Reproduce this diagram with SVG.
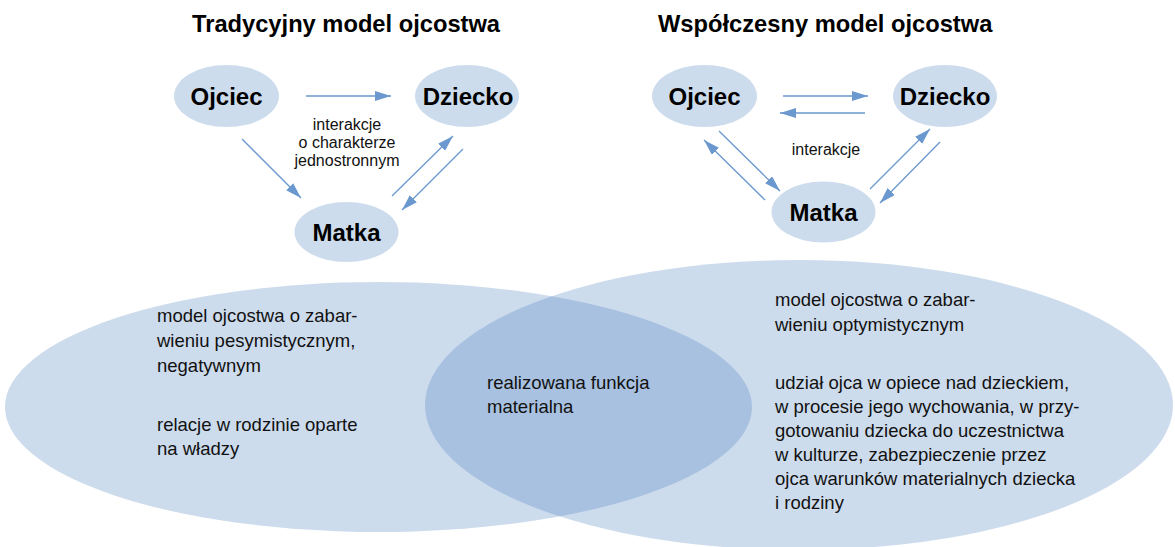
<svg xmlns="http://www.w3.org/2000/svg" width="1175" height="547" viewBox="0 0 1175 547">
  <style>
    .title { font-family: "Liberation Sans", Arial, sans-serif; font-weight: bold; font-size: 23.7px; fill: #000; }
    .node-shape { fill: #cddcec; }
    .node-label { font-family: "Liberation Sans", Arial, sans-serif; font-weight: bold; font-size: 24px; fill: #000; text-anchor: middle; }
    .small { font-family: "Liberation Sans", Arial, sans-serif; font-size: 16px; fill: #111; text-anchor: middle; }
    .body { font-family: "Liberation Sans", Arial, sans-serif; font-size: 18.5px; fill: #111; }
    .area { fill: #cddcec; }
    .common { fill: #a8c1e0; }
    .link { stroke: #6a98cf; stroke-width: 1.3; fill: none; marker-end: url(#arrow); }
  </style>
  <defs>
    <marker id="arrow" viewBox="0 0 16 10" refX="16" refY="5" markerWidth="16" markerHeight="10" markerUnits="userSpaceOnUse" orient="auto">
      <path d="M0,0 L16,5 L0,10 Z" fill="#6a98cf"/>
    </marker>
    <clipPath id="clip-modern">
      <ellipse cx="799" cy="405" rx="374" ry="145"/>
    </clipPath>
  </defs>

  <!-- Titles -->
  <text class="title" x="192" y="32">Tradycyjny model ojcostwa</text>
  <text class="title" x="658" y="32">Współczesny model ojcostwa</text>

  <!-- Overlapping fields: traditional (left), contemporary (right), shared part -->
  <g id="field-traditional">
    <ellipse class="area" cx="378.5" cy="407" rx="373.5" ry="125"/>
  </g>
  <g id="field-contemporary">
    <ellipse class="area" cx="799" cy="405" rx="374" ry="145"/>
  </g>
  <g id="field-shared">
    <ellipse class="common" cx="378.5" cy="407" rx="373.5" ry="125" clip-path="url(#clip-modern)"/>
  </g>

  <g id="text-traditional">
    <text class="body" x="157" y="322">model ojcostwa o zabar-</text>
    <text class="body" x="157" y="347">wieniu pesymistycznym,</text>
    <text class="body" x="157" y="372">negatywnym</text>
    <text class="body" x="157" y="431">relacje w rodzinie oparte</text>
    <text class="body" x="157" y="455">na władzy</text>
  </g>
  <g id="text-shared">
    <text class="body" x="487" y="389">realizowana funkcja</text>
    <text class="body" x="487" y="413">materialna</text>
  </g>
  <g id="text-contemporary">
    <text class="body" x="775" y="306">model ojcostwa o zabar-</text>
    <text class="body" x="775" y="331">wieniu optymistycznym</text>
    <text class="body" x="775" y="389">udział ojca w opiece nad dzieckiem,</text>
    <text class="body" x="775" y="413">w procesie jego wychowania, w przy-</text>
    <text class="body" x="775" y="437">gotowaniu dziecka do uczestnictwa</text>
    <text class="body" x="775" y="461">w kulturze, zabezpieczenie przez</text>
    <text class="body" x="775" y="485">ojca warunków materialnych dziecka</text>
    <text class="body" x="775" y="509">i rodziny</text>
  </g>

  <!-- Traditional model nodes -->
  <g id="t-ojciec">
    <ellipse class="node-shape" cx="226.5" cy="96" rx="52.5" ry="31"/>
    <text class="node-label" x="226.5" y="104.5">Ojciec</text>
  </g>
  <g id="t-dziecko">
    <ellipse class="node-shape" cx="467" cy="96" rx="52" ry="31"/>
    <text class="node-label" x="468" y="104.5">Dziecko</text>
  </g>
  <g id="t-matka">
    <ellipse class="node-shape" cx="346.5" cy="232" rx="52" ry="30"/>
    <text class="node-label" x="346.5" y="240.5">Matka</text>
  </g>

  <!-- Contemporary model nodes -->
  <g id="c-ojciec">
    <ellipse class="node-shape" cx="704.5" cy="96" rx="52.5" ry="31"/>
    <text class="node-label" x="704.5" y="104.5">Ojciec</text>
  </g>
  <g id="c-dziecko">
    <ellipse class="node-shape" cx="945" cy="96" rx="52" ry="31"/>
    <text class="node-label" x="945" y="104.5">Dziecko</text>
  </g>
  <g id="c-matka">
    <ellipse class="node-shape" cx="823.5" cy="212" rx="52" ry="30.5"/>
    <text class="node-label" x="823.5" y="220.5">Matka</text>
  </g>

  <!-- Connectors -->
  <g id="connectors">
    <line class="link" x1="306" y1="96" x2="391" y2="96"/>
    <line class="link" x1="242" y1="139" x2="301" y2="198"/>
    <line class="link" x1="392" y1="196" x2="453" y2="136"/>
    <line class="link" x1="463" y1="149" x2="402" y2="210"/>

    <line class="link" x1="783" y1="96" x2="868" y2="96"/>
    <line class="link" x1="865" y1="113" x2="780" y2="113"/>
    <line class="link" x1="719" y1="131" x2="780" y2="191"/>
    <line class="link" x1="765" y1="200" x2="704" y2="140"/>
    <line class="link" x1="870" y1="189" x2="930" y2="129"/>
    <line class="link" x1="940" y1="142" x2="880" y2="203"/>
  </g>

  <!-- Connector labels -->
  <g id="labels">
    <text class="small" x="347" y="130">interakcje</text>
    <text class="small" x="347" y="148">o charakterze</text>
    <text class="small" x="347" y="166">jednostronnym</text>
    <text class="small" x="826" y="155">interakcje</text>
  </g>
</svg>
